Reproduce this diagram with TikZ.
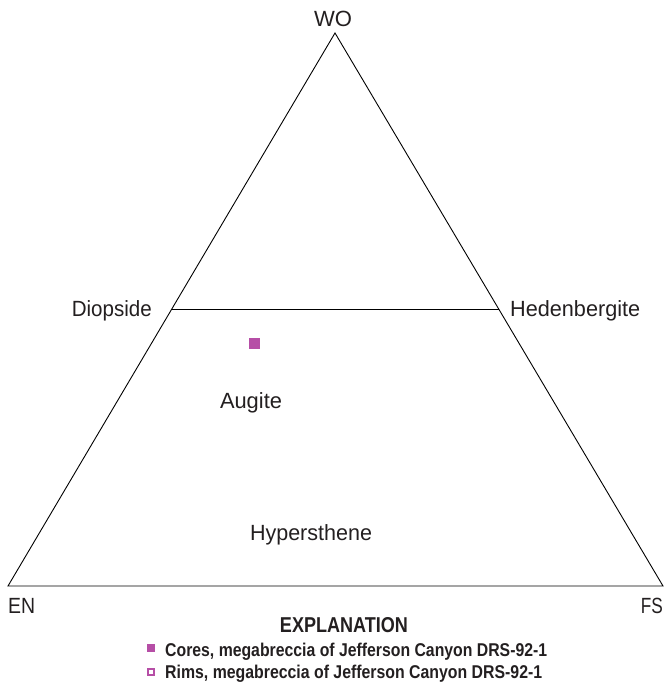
\documentclass[tikz,border=0pt]{standalone}
\usepackage{fontspec}
\usepackage{graphicx}
\setmainfont{Liberation Sans}
\definecolor{ink}{RGB}{35,31,32}
\definecolor{pt}{RGB}{182,78,166}
\newcommand{\fitw}[2]{\resizebox{#1}{\height}{#2}}
\begin{document}
\begin{tikzpicture}[x=1pt,y=-1pt,
  lbl/.style={inner sep=0pt,text=ink,font=\fontsize{22}{26}\selectfont},
  leg/.style={inner sep=0pt,text=ink,font=\bfseries\fontsize{18.5}{22}\selectfont,anchor=base west},
  edge/.style={draw=black,line width=0.9pt},
  corept/.style={rectangle,fill=pt,draw=none,inner sep=0pt},
  rimpt/.style={rectangle,draw=pt,fill=white,line width=1.1pt,inner sep=0pt}]
\useasboundingbox (0,0) rectangle (665,688);
\coordinate (WOv) at (335,33);
\coordinate (ENv) at (8,586);
\coordinate (FSv) at (663,586);
\coordinate (Dv) at (171.5,309.5);
\coordinate (Hv) at (499,309.5);
\draw[edge,line join=miter] (ENv) -- (WOv) -- (FSv) -- cycle;
\draw[edge] (Dv) -- (Hv);
\node[lbl,anchor=base] (wo) at (333,27) {\fitw{38pt}{WO}};
\node[lbl,anchor=base east] (di) at (152,316.5) {\fitw{80pt}{Diopside}};
\node[lbl,anchor=base west] (hd) at (510,316.5) {\fitw{130pt}{Hedenbergite}};
\node[lbl,anchor=base] (au) at (251,408) {\fitw{62pt}{Augite}};
\node[lbl,anchor=base] (hy) at (311,540) {\fitw{122pt}{Hypersthene}};
\node[lbl,anchor=base west] (en) at (8,613) {\fitw{27pt}{EN}};
\node[lbl,anchor=base east] (fs) at (663,613) {\fitw{22pt}{FS}};
\node[corept,minimum size=11pt] (p1) at (254,343) {};
\node[inner sep=0pt,text=ink,anchor=base] (ex) at (344,632) {\fitw{128pt}{\bfseries\fontsize{21.5}{25}\selectfont EXPLANATION}};
\node[corept,minimum size=8pt] (m1) at (151,647.5) {};
\node[leg] (t1) at (165,656) {\fitw{382pt}{Cores, megabreccia of Jefferson Canyon DRS-92-1}};
\node[rimpt,minimum size=6pt] (m2) at (151,672) {};
\node[leg] (t2) at (165,678.5) {\fitw{377pt}{Rims, megabreccia of Jefferson Canyon DRS-92-1}};
\end{tikzpicture}
\end{document}
